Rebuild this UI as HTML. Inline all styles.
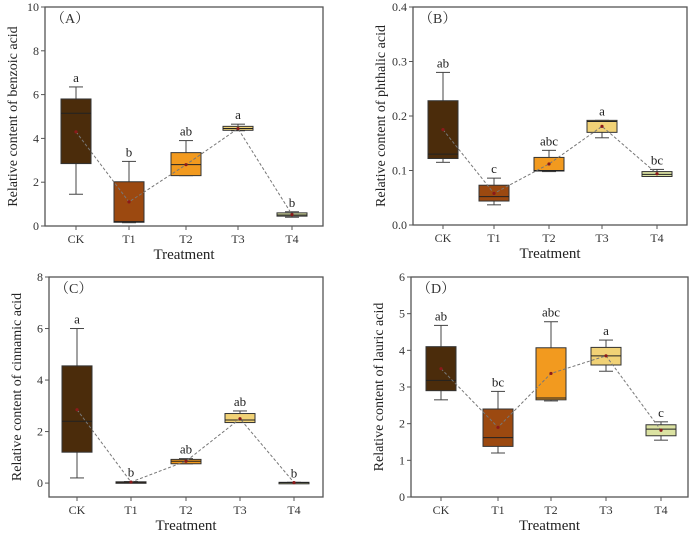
<!DOCTYPE html>
<html><head><meta charset="utf-8"><style>
html,body{margin:0;padding:0;background:#fff;}
svg{display:block;font-family:"Liberation Serif","Noto Serif CJK SC",serif;}
</style></head><body>
<svg id="fig" width="692" height="538" viewBox="0 0 692 538" xmlns="http://www.w3.org/2000/svg"></svg>
<script>
const categories = ["CK","T1","T2","T3","T4"];
const colors = ["#4b2c0b","#9c4910","#f29a1f","#f1d276","#dbe2a2"];
// each row: [min, q1, median, q3, max, mean]
const dataA = [[1.45,2.85,5.15,5.8,6.35,4.3],[0.15,0.17,0.2,2.02,2.95,1.1],[2.3,2.3,2.8,3.35,3.9,2.8],[4.35,4.37,4.45,4.55,4.65,4.45],[0.4,0.45,0.5,0.6,0.65,0.52]];
const dataB = [[0.115,0.122,0.13,0.228,0.28,0.175],[0.037,0.044,0.052,0.073,0.086,0.058],[0.098,0.099,0.1,0.124,0.137,0.112],[0.16,0.17,0.19,0.192,0.192,0.181],[0.089,0.089,0.093,0.098,0.102,0.094]];
const dataC = [[0.2,1.2,2.4,4.55,6.0,2.85],[0.02,0.02,0.03,0.05,0.06,0.04],[0.75,0.75,0.85,0.92,0.95,0.85],[2.35,2.35,2.45,2.7,2.8,2.5],[0.01,0.01,0.02,0.03,0.03,0.02]];
const dataD = [[2.65,2.9,3.18,4.1,4.68,3.5],[1.2,1.38,1.62,2.4,2.88,1.9],[2.62,2.65,2.7,4.07,4.78,3.37],[3.43,3.6,3.85,4.08,4.28,3.85],[1.55,1.67,1.85,1.97,2.05,1.82]];
const lettersA = ["a","b","ab","a","b"];
const lettersB = ["ab","c","abc","a","bc"];
const lettersC = ["a","b","ab","ab","b"];
const lettersD = ["ab","bc","abc","a","c"];
const ticksA = [0,2,4,6,8,10];
const ticksB = [0.0,0.1,0.2,0.3,0.4];
const ticksC = [0,2,4,6,8];
const ticksD = [0,1,2,3,4,5,6];

const NS="http://www.w3.org/2000/svg";
const svg=document.getElementById('fig');
function mk(tag,attrs,parent,text){const e=document.createElementNS(NS,tag);for(const k in attrs)e.setAttribute(k,attrs[k]);if(text!==undefined)e.textContent=text;(parent||svg).appendChild(e);return e;}

const panels=[
 {id:"a",L:45,T:7,R:323,B:226,ymin:0,ymax:10,data:dataA,letters:lettersA,ticks:ticksA,dec:0,title:"Relative content of benzoic acid",tag:"（A）",xt:12,xl:[76,129,186,238,292]},
 {id:"b",L:413,T:7,R:687,B:225,ymin:0,ymax:0.4,data:dataB,letters:lettersB,ticks:ticksB,dec:1,title:"Relative content of phthalic acid",tag:"（B）",xt:380,xl:[443,494,549,602,657]},
 {id:"c",L:49,T:277,R:323,B:497,ymin:-0.54,ymax:8,data:dataC,letters:lettersC,ticks:ticksC,dec:0,title:"Relative content of cinnamic acid",tag:"（C）",xt:16,xl:[77,131,186,240,294]},
 {id:"d",L:411,T:277,R:688,B:497,ymin:0,ymax:6,data:dataD,letters:lettersD,ticks:ticksD,dec:0,title:"Relative content of lauric acid",tag:"（D）",xt:378,xl:[441,498,551,606,661]}
];
panels.forEach(p=>{
 const g=mk('g',{});
 
 
 const y=v=>p.B-(v-p.ymin)/(p.ymax-p.ymin)*(p.B-p.T);
 const fr=mk('rect',{x:p.L,y:p.T,width:p.R-p.L,height:p.B-p.T,fill:'none',stroke:'#555','stroke-width':1.3},g);
 
 
 p.ticks.forEach(t=>{
  mk('line',{x1:p.L-4,x2:p.L,y1:y(t),y2:y(t),stroke:'#555'},g);
  const tl=mk('text',{x:p.L-6,y:y(t)+4,'text-anchor':'end','font-size':12,fill:'#333'},g,t.toFixed(p.dec));
  
  
 });
 categories.forEach((c,i)=>{
  mk('line',{x1:p.xl[i],x2:p.xl[i],y1:p.B,y2:p.B+4,stroke:'#555'},g);
  const xl=mk('text',{x:p.xl[i],y:p.B+17,'text-anchor':'middle','font-size':12,fill:'#333'},g,c);
  
  
 });
 const xt=mk('text',{x:(p.L+p.R)/2,y:p.B+33,'text-anchor':'middle','font-size':15,fill:'#222'},g,'Treatment');
 
 
 const cy=(p.T+p.B)/2;
 const yt=mk('text',{x:p.xt,y:cy,'text-anchor':'middle','font-size':14,fill:'#222',transform:`rotate(-90 ${p.xt} ${cy})`,dy:5},g,p.title);
 
 
 const tg=mk('text',{x:p.L+6,y:p.T+16,'font-size':14,fill:'#333'},g,p.tag);
 
 
 const w=15;
 p.data.forEach((d,i)=>{
  const x=p.xl[i];
  const bg=mk('g',{},g);
  
  
  mk('line',{x1:x,x2:x,y1:y(d[0]),y2:y(d[1]),stroke:'#444'},bg);
  mk('line',{x1:x,x2:x,y1:y(d[3]),y2:y(d[4]),stroke:'#444'},bg);
  mk('line',{x1:x-7,x2:x+7,y1:y(d[0]),y2:y(d[0]),stroke:'#444'},bg);
  mk('line',{x1:x-7,x2:x+7,y1:y(d[4]),y2:y(d[4]),stroke:'#444'},bg);
  mk('rect',{x:x-w,y:y(d[3]),width:2*w,height:Math.max(1.5,y(d[1])-y(d[3])),fill:colors[i],stroke:'#333','stroke-width':1},bg);
  mk('line',{x1:x-w,x2:x+w,y1:y(d[2]),y2:y(d[2]),stroke:'#222'},bg);
  const lt=mk('text',{x:x,y:y(d[4])-5,'text-anchor':'middle','font-size':13,fill:'#222'},g,p.letters[i]);
  
  
 });
 const pts=p.data.map((d,i)=>p.xl[i]+','+y(d[5])).join(' ');
 const pl=mk('polyline',{points:pts,fill:'none',stroke:'#777','stroke-width':1,'stroke-dasharray':'3,2'},g);
 
 
 p.data.forEach((d,i)=>{
  const m=mk('circle',{cx:p.xl[i],cy:y(d[5]),r:1.6,fill:'#8b1a1a'},g);
  
  
 });
});
</script>
</body></html>
